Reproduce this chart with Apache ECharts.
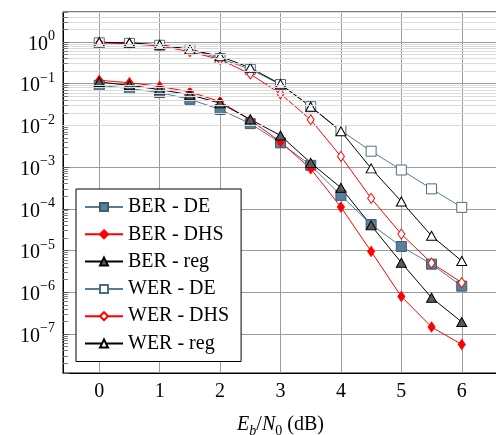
<!DOCTYPE html>
<html>
<head>
<meta charset="utf-8">
<script src="https://cdn.jsdelivr.net/npm/echarts@6/dist/echarts.min.js"></script>
<style>
html,body{margin:0;padding:0;background:#fff}
#chart{width:496px;height:435px}
</style>
</head>
<body>
<div id="chart"></div>
<script>
// Eb/N0 in dB
var snr = [0, 0.5, 1, 1.5, 2, 2.5, 3, 3.5, 4, 4.5, 5, 5.5, 6];

var berDE  = [0.091, 0.076, 0.061, 0.042, 0.024, 0.011, 0.0038, 0.0011, 2.1e-4, 4.2e-5, 1.25e-5, 4.7e-6, 1.4e-6];
var berDHS = [0.12, 0.105, 0.086, 0.063, 0.037, 0.0135, 0.0040, 9.1e-4, 1.1e-4, 9.5e-6, 7.9e-7, 1.47e-7, 5.6e-8];
var berReg = [0.109, 0.091, 0.072, 0.054, 0.034, 0.0139, 0.0057, 0.00126, 3.2e-4, 4.0e-5, 5.1e-6, 7.4e-7, 1.94e-7];
var werDE  = [0.95, 0.92, 0.83, 0.66, 0.40, 0.22, 0.095, 0.028, 0.0075, 0.0024, 8.5e-4, 3.0e-4, 1.08e-4];
var werDHS = [0.95, 0.90, 0.80, 0.58, 0.38, 0.17, 0.057, 0.0136, 0.0018, 1.78e-4, 2.47e-5, 5.0e-6, 1.7e-6];
var werReg = [0.98, 0.95, 0.85, 0.66, 0.45, 0.24, 0.097, 0.028, 0.0072, 9.3e-4, 1.5e-4, 2.25e-5, 5.6e-6];

var names = ['BER - DE', 'BER - DHS', 'BER - reg', 'WER - DE', 'WER - DHS', 'WER - reg'];

var yMin = 1.16e-8, yMax = 5.2;
var xMin = -0.6, xMax = 6.6;

var serif = 'Liberation Serif';
var blue = '#587a92', red = '#ff0000', black = '#000000';

function pairs(arr){
	var out = [];
	for (var i = 0; i < snr.length; i++) out.push([snr[i], arr[i]]);
	return out;
}

// minor grid lines at 2..9 x 10^k
var minorVals = [];
for (var k = -8; k <= 0; k++) {
	for (var m = 2; m <= 9; m++) {
		var v = m * Math.pow(10, k);
		if (v > yMin && v < yMax) minorVals.push(v);
	}
}
var minorLines = [], minorTicks = [];
minorVals.forEach(function(v){
	minorLines.push({yAxis: v});
	minorTicks.push([{coord: [xMin, v]}, {coord: [xMin + 0.08, v]}]);
});

function mkSeries(name, data, color, symbol, size, fill, border){
	return {
		name: name,
		type: 'line',
		data: pairs(data),
		symbol: symbol,
		symbolSize: size,
		showAllSymbol: true,
		z: 3,
		lineStyle: {color: color, width: 1},
		itemStyle: {color: fill, borderColor: border, borderWidth: 1},
		emphasis: {disabled: true}
	};
}

var chart = echarts.init(document.getElementById('chart'));

var option = {
	animation: false,
	grid: {
		left: 63, top: 12, width: 435, bottom: 62,
		show: true, borderColor: '#000', borderWidth: 1,
		containLabel: false,
		outerBoundsMode: 'none'
	},
	legend: {
		data: names,
		orient: 'vertical',
		left: 76, top: 189,
		padding: [8, 12, 8, 8],
		itemWidth: 38, itemHeight: 10,
		itemGap: 7.3,
		backgroundColor: '#fff',
		borderColor: '#000', borderWidth: 1, borderRadius: 0,
		textStyle: {fontFamily: serif, fontSize: 20, color: '#000', lineHeight: 20},
		selectedMode: false
	},
	xAxis: {
		type: 'value',
		min: xMin, max: xMax,
		splitNumber: 7,
		axisLine: {onZero: false, lineStyle: {color: '#000', width: 1}},
		axisTick: {show: false},
		splitLine: {show: true, lineStyle: {color: '#9c9c9c', width: 1}},
		axisLabel: {
			margin: 9,
			fontFamily: serif, fontSize: 20, color: '#000',
			formatter: function(v){ return Math.abs(v - Math.round(v)) < 1e-6 ? String(Math.round(v)) : ''; }
		},
		name: '{i|E}{is|b}{n|/}{i|N}{s|0}{n| (dB)}',
		nameLocation: 'middle',
		nameGap: 42,
		nameTextStyle: {
			rich: {
				i: {fontFamily: serif, fontSize: 20, fontStyle: 'italic', color: '#000', padding: [0, 0, 3, 0], verticalAlign: 'top'},
				n: {fontFamily: serif, fontSize: 20, color: '#000', padding: [0, 0, 3, 0], verticalAlign: 'top'},
				is: {fontFamily: serif, fontSize: 14, fontStyle: 'italic', color: '#000', verticalAlign: 'bottom'},
				s: {fontFamily: serif, fontSize: 14, color: '#000', verticalAlign: 'bottom'}
			}
		}
	},
	yAxis: {
		type: 'log',
		logBase: 10,
		min: yMin, max: yMax,
		axisLine: {onZero: false, lineStyle: {color: '#000', width: 1}},
		axisTick: {show: true, inside: true, length: 6, lineStyle: {color: '#555'}},
		splitLine: {show: true, lineStyle: {color: '#9c9c9c', width: 1}},
		axisLabel: {
			margin: 8,
			formatter: function(v){
				var l = Math.log(v) / Math.LN10;
				var e = Math.round(l);
				if (Math.abs(l - e) > 1e-6) return '';
				return '{b|10}{e|' + (e < 0 ? '\u2212' + (-e) : e) + '}';
			},
			rich: {
				b: {fontFamily: serif, fontSize: 20, color: '#000', padding: [5, 0, 0, 0], verticalAlign: 'bottom'},
				e: {fontFamily: serif, fontSize: 14, color: '#000', verticalAlign: 'top'}
			}
		}
	},
	series: [
		{
			name: 'grid',
			type: 'line',
			data: [],
			z: 1,
			silent: true,
			markLine: {
				silent: true,
				symbol: ['none', 'none'],
				label: {show: false},
				animation: false,
				lineStyle: {type: 'solid', color: '#dadada', width: 1},
				emphasis: {disabled: true},
				data: minorLines
			}
		},
		{
			name: 'ticks',
			type: 'line',
			data: [],
			z: 1,
			silent: true,
			markLine: {
				silent: true,
				symbol: ['none', 'none'],
				label: {show: false},
				animation: false,
				lineStyle: {type: 'solid', color: '#777', width: 1},
				emphasis: {disabled: true},
				data: minorTicks
			}
		},
		mkSeries(names[0], berDE,  blue,  'rect',     10, '#5a8099', '#3e5b70'),
		mkSeries(names[1], berDHS, red,   'diamond',  [7, 10], red, red),
		mkSeries(names[2], berReg, black, 'triangle', [10, 9], '#5a5a5a', '#000'),
		mkSeries(names[3], werDE,  blue,  'rect',     10, '#fff', '#4e6e85'),
		mkSeries(names[4], werDHS, red,   'diamond',  [7, 10], '#fff', red),
		mkSeries(names[5], werReg, black, 'triangle', [10, 9], '#fff', '#000')
	]
};

chart.setOption(option);
</script>
</body>
</html>
